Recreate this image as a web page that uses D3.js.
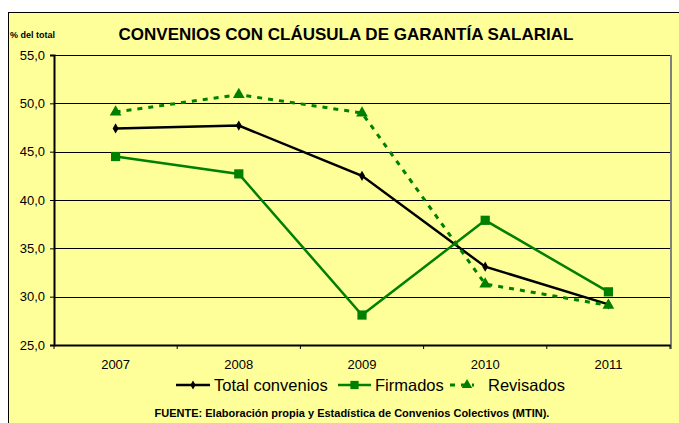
<!DOCTYPE html>
<html><head><meta charset="utf-8">
<script src="https://cdn.jsdelivr.net/npm/d3@7"></script>
<style>body{margin:0;background:#fff}svg{display:block}text{font-family:Arial,"Liberation Sans",sans-serif}</style>
</head><body>
<script>
const years = ["2007","2008","2009","2010","2011"];
const totalConvenios = [47.4, 47.7, 42.5, 33.1, 29.2];
const firmados = [44.5, 42.7, 28.1, 37.9, 30.5];
const revisados = [49.1, 50.9, 49.0, 31.3, 29.1];
const yTicks = [25, 30, 35, 40, 45, 50, 55];
const title = "CONVENIOS CON CLÁUSULA DE GARANTÍA SALARIAL";
const yLabel = "% del total";
const source = "FUENTE: Elaboración propia y Estadística de Convenios Colectivos (MTIN).";

const W = 679, H = 423;
const svg = d3.select("body").append("svg").attr("width", W).attr("height", H);
svg.append("rect").attr("x", 8.5).attr("y", 12.5).attr("width", W).attr("height", H)
  .attr("fill", "#FFFF99").attr("stroke", "#000").attr("stroke-width", 1);

const L = 54, R = 670, T = 55, B = 345;
const x = d3.scaleBand().domain(years).range([L, R]);
const y = d3.scaleLinear().domain([25, 55]).range([B, T]);
const fmt = v => d3.format(".1f")(v).replace(".", ",");

// gridlines
svg.append("g").selectAll("line").data(yTicks.filter(v => v > 25)).join("line")
  .attr("x1", L).attr("x2", R).attr("y1", d => Math.round(y(d)) + 0.5).attr("y2", d => Math.round(y(d)) + 0.5)
  .attr("stroke", "#000").attr("stroke-width", 1);
// right border
svg.append("line").attr("x1", R + 1).attr("x2", R + 1).attr("y1", T).attr("y2", B + 4)
  .attr("stroke", "#808080").attr("stroke-width", 2);

// y axis
const yAxis = svg.append("g").attr("transform", `translate(${L},0)`)
  .call(d3.axisLeft(y).tickValues(yTicks).tickFormat(fmt).tickSize(4).tickPadding(5));
yAxis.select(".domain").attr("stroke-width", 2);
yAxis.selectAll("text").attr("font-size", 13).attr("fill", "#000");

// x axis
const xAxis = svg.append("g").attr("transform", `translate(0,${B})`)
  .call(d3.axisBottom(x).tickSize(0).tickPadding(15));
xAxis.select(".domain").attr("stroke-width", 2);
xAxis.selectAll("text").attr("font-size", 13).attr("fill", "#000");
const bounds = years.map(d => x(d)).concat([R]);
svg.append("g").selectAll("line").data(bounds).join("line")
  .attr("x1", d => d).attr("x2", d => d).attr("y1", B).attr("y2", B + 4)
  .attr("stroke", "#000").attr("stroke-width", 1);

const cx = d => x(d) + x.bandwidth() / 2;
const line = d3.line().x((d, i) => cx(years[i])).y(d => y(d));

const series = [
  { name: "Total convenios", values: totalConvenios, color: "#000", dash: null, marker: "diamond", size: 30, width: 2.5 },
  { name: "Firmados", values: firmados, color: "#008000", dash: null, marker: "square", size: 85, width: 2.5 },
  { name: "Revisados", values: revisados, color: "#008000", dash: "5,6", marker: "triangle", size: 60, width: 3 }
];
const sym = { diamond: d3.symbolDiamond, square: d3.symbolSquare, triangle: d3.symbolTriangle };

series.forEach(s => {
  svg.append("path").datum(s.values).attr("d", line).attr("fill", "none")
    .attr("stroke", s.color).attr("stroke-width", s.width).attr("stroke-dasharray", s.dash);
  svg.append("g").selectAll("path").data(s.values).join("path")
    .attr("transform", (d, i) => `translate(${cx(years[i])},${y(d)})`)
    .attr("d", d3.symbol().type(sym[s.marker]).size(s.size)).attr("fill", s.color);
});

// title & labels
svg.append("text").attr("x", 346).attr("y", 40).attr("text-anchor", "middle")
  .attr("font-size", 17).attr("font-weight", "bold").text(title);
svg.append("text").attr("x", 10).attr("y", 38).attr("font-size", 9).attr("font-weight", "bold").text(yLabel);

// legend
const ly = 385;
const leg = [
  { s: series[0], x1: 176, x2: 210, tx: 214 },
  { s: series[1], x1: 338, x2: 371, tx: 375 },
  { s: series[2], x1: 450, x2: 474, tx: 488 }
];
leg.forEach(l => {
  const g = svg.append("g");
  g.append("line").attr("x1", l.x1).attr("x2", l.x2).attr("y1", ly).attr("y2", ly)
    .attr("stroke", l.s.color).attr("stroke-width", l.s.width).attr("stroke-dasharray", l.s.dash);
  g.append("path").attr("transform", `translate(${(l.x1 + l.x2) / 2 + (l.s.marker === "triangle" ? 5 : 0)},${ly})`)
    .attr("d", d3.symbol().type(sym[l.s.marker]).size(l.s.size * 0.8)).attr("fill", l.s.color);
  g.append("text").attr("x", l.tx).attr("y", ly + 6).attr("font-size", 16.5).text(l.s.name);
});

svg.append("text").attr("x", 352).attr("y", 417).attr("text-anchor", "middle")
  .attr("font-size", 11).attr("font-weight", "bold").text(source);
</script>
</body></html>
